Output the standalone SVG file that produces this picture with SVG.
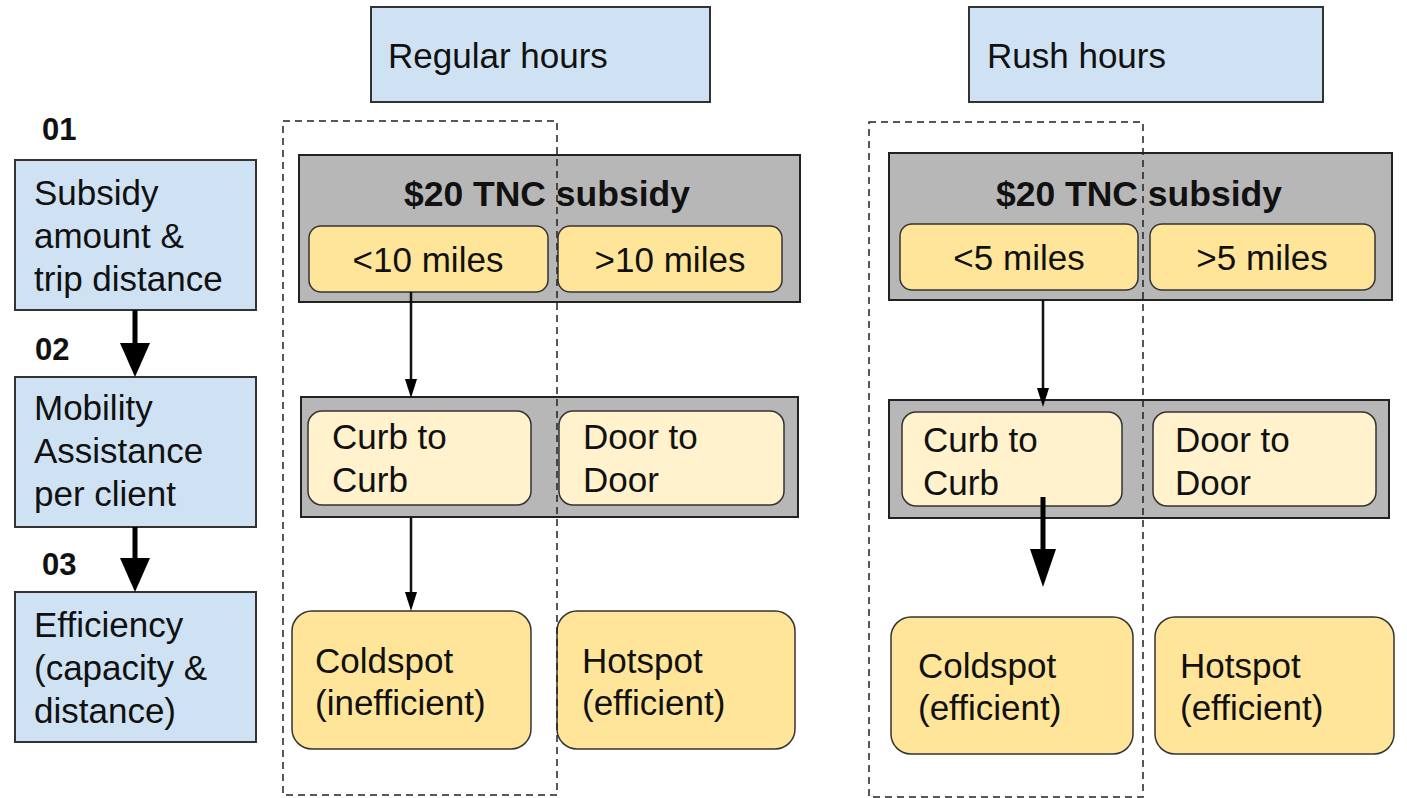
<svg xmlns="http://www.w3.org/2000/svg" width="1407" height="798" viewBox="0 0 1407 798">
  <style>
    text { font-family: "Liberation Sans", Arial, sans-serif; font-size: 35px; fill: #111; }
    .bold { font-weight: bold; font-size: 35.5px; }
    .step { font-weight: bold; font-size: 31px; }
    .blue { fill: #cfe2f3; stroke: #333; stroke-width: 2; }
    .gray { fill: #b7b7b7; stroke: #222; stroke-width: 2; }
    .pill { fill: #ffe599; stroke: #333; stroke-width: 1.5; }
    .pale { fill: #fff2cc; stroke: #333; stroke-width: 1.5; }
    .dash { fill: none; stroke: #222; stroke-width: 1.5; stroke-dasharray: 7 5; }
    .thin { stroke: #111; stroke-width: 2.5; fill: none; }
    .thick { stroke: #000; stroke-width: 5; fill: none; }
    .head { fill: #000; }
    .c { text-anchor: middle; }
  </style>
  <rect width="1407" height="798" fill="#fff"/>

  <!-- step column -->
  <g id="step01">
    <text class="step" x="42" y="140">01</text>
    <rect class="blue" x="15" y="160" width="241" height="150"/>
    <text x="34" y="205">Subsidy</text>
    <text x="34" y="248">amount &amp;</text>
    <text x="34" y="291">trip distance</text>
  </g>
  <g id="step02">
    <text class="step" x="35" y="360">02</text>
    <rect class="blue" x="15" y="377" width="241" height="150"/>
    <text x="34" y="420">Mobility</text>
    <text x="34" y="463">Assistance</text>
    <text x="34" y="506">per client</text>
  </g>
  <g id="step03">
    <text class="step" x="42" y="575">03</text>
    <rect class="blue" x="15" y="592" width="241" height="150"/>
    <text x="34" y="637">Efficiency</text>
    <text x="34" y="680">(capacity &amp;</text>
    <text x="34" y="723">distance)</text>
  </g>

  <!-- column headers -->
  <g id="regular-hours">
    <rect class="blue" x="371" y="7" width="339" height="95"/>
    <text x="388" y="68">Regular hours</text>
  </g>
  <g id="rush-hours">
    <rect class="blue" x="969" y="7" width="354" height="95"/>
    <text x="987" y="68">Rush hours</text>
  </g>

  <!-- regular hours: subsidy row -->
  <g id="reg-subsidy">
    <rect class="gray" x="299" y="155" width="501" height="147"/>
    <text class="bold c" x="547" y="206">$20 TNC subsidy</text>
  </g>
  <g id="reg-lt10">
    <rect class="pill" x="309" y="226" width="239" height="66" rx="12"/>
    <text class="c" x="428" y="272">&lt;10 miles</text>
  </g>
  <g id="reg-gt10">
    <rect class="pill" x="558" y="226" width="224" height="66" rx="12"/>
    <text class="c" x="670" y="272">&gt;10 miles</text>
  </g>

  <!-- regular hours: assistance row -->
  <g id="reg-assist">
    <rect class="gray" x="301" y="397" width="497" height="120"/>
  </g>
  <g id="reg-curb">
    <rect class="pale" x="308" y="411" width="223" height="94" rx="14"/>
    <text x="332" y="449">Curb to</text>
    <text x="332" y="492">Curb</text>
  </g>
  <g id="reg-door">
    <rect class="pale" x="559" y="411" width="225" height="94" rx="14"/>
    <text x="583" y="449">Door to</text>
    <text x="583" y="492">Door</text>
  </g>

  <!-- regular hours: efficiency row -->
  <g id="reg-cold">
    <rect class="pill" x="292" y="611" width="239" height="138" rx="20"/>
    <text x="315" y="673">Coldspot</text>
    <text x="315" y="715">(inefficient)</text>
  </g>
  <g id="reg-hot">
    <rect class="pill" x="557" y="611" width="238" height="138" rx="20"/>
    <text x="582" y="673">Hotspot</text>
    <text x="582" y="715">(efficient)</text>
  </g>

  <!-- rush hours: subsidy row -->
  <g id="rush-subsidy">
    <rect class="gray" x="889" y="153" width="503" height="147"/>
    <text class="bold c" x="1139" y="206">$20 TNC subsidy</text>
  </g>
  <g id="rush-lt5">
    <rect class="pill" x="900" y="224" width="238" height="66" rx="12"/>
    <text class="c" x="1019" y="270">&lt;5 miles</text>
  </g>
  <g id="rush-gt5">
    <rect class="pill" x="1150" y="224" width="225" height="66" rx="12"/>
    <text class="c" x="1262" y="270">&gt;5 miles</text>
  </g>

  <!-- rush hours: assistance row -->
  <g id="rush-assist">
    <rect class="gray" x="889" y="400" width="500" height="118"/>
  </g>
  <g id="rush-curb">
    <rect class="pale" x="902" y="412" width="220" height="94" rx="14"/>
    <text x="923" y="452">Curb to</text>
    <text x="923" y="495">Curb</text>
  </g>
  <g id="rush-door">
    <rect class="pale" x="1153" y="412" width="223" height="94" rx="14"/>
    <text x="1175" y="452">Door to</text>
    <text x="1175" y="495">Door</text>
  </g>

  <!-- rush hours: efficiency row -->
  <g id="rush-cold">
    <rect class="pill" x="891" y="617" width="242" height="137" rx="20"/>
    <text x="918" y="678">Coldspot</text>
    <text x="918" y="720">(efficient)</text>
  </g>
  <g id="rush-hot">
    <rect class="pill" x="1155" y="617" width="239" height="137" rx="20"/>
    <text x="1180" y="678">Hotspot</text>
    <text x="1180" y="720">(efficient)</text>
  </g>

  <!-- dashed selection frames -->
  <g id="frames">
    <rect class="dash" x="283" y="121" width="274" height="674"/>
    <rect class="dash" x="869" y="122" width="274" height="675"/>
  </g>

  <!-- connectors -->
  <g id="connectors">
    <line class="thick" x1="135" y1="310" x2="135" y2="345"/>
    <path class="head" d="M120,343 L150,343 L135,377 Z"/>
    <line class="thick" x1="135" y1="527" x2="135" y2="560"/>
    <path class="head" d="M120,558 L150,558 L135,592 Z"/>

    <line class="thin" x1="411" y1="292" x2="411" y2="382"/>
    <path class="head" d="M405,379 L417,379 L411,398 Z"/>
    <line class="thin" x1="411" y1="517" x2="411" y2="595"/>
    <path class="head" d="M405,592 L417,592 L411,611 Z"/>
    <line class="thin" x1="1043" y1="300" x2="1043" y2="391"/>
    <path class="head" d="M1037,388 L1049,388 L1043,407 Z"/>

    <line class="thick" x1="1043" y1="497" x2="1043" y2="552"/>
    <path class="head" d="M1030,549 L1056,549 L1043,587 Z"/>
  </g>
</svg>
